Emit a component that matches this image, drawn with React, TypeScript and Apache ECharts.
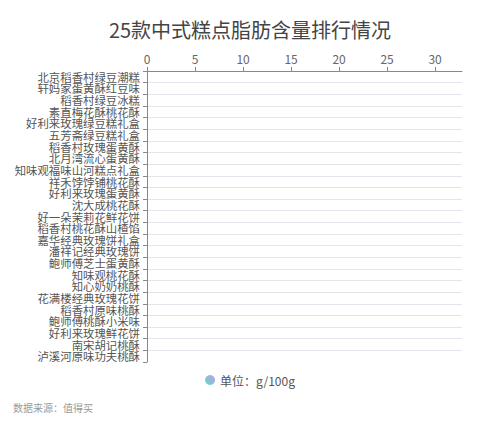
import React, { useEffect, useRef } from 'react';
import * as echarts from 'echarts';

const titleText = '25款中式糕点脂肪含量排行情况';
const sourceText = '数据来源：值得买';
const seriesName = '单位：g/100g';

const categories = [
  '北京稻香村绿豆潮糕',
  '轩妈家蛋黄酥红豆味',
  '稻香村绿豆冰糕',
  '素直梅花酥桃花酥',
  '好利来玫瑰绿豆糕礼盒',
  '五芳斋绿豆糕礼盒',
  '稻香村玫瑰蛋黄酥',
  '北月湾流心蛋黄酥',
  '知味观福味山河糕点礼盒',
  '祥禾饽饽铺桃花酥',
  '好利来玫瑰蛋黄酥',
  '沈大成桃花酥',
  '好一朵茉莉花鲜花饼',
  '稻香村桃花酥山楂馅',
  '嘉华经典玫瑰饼礼盒',
  '潘祥记经典玫瑰饼',
  '鲍师傅芝士蛋黄酥',
  '知味观桃花酥',
  '知心奶奶桃酥',
  '花满楼经典玫瑰花饼',
  '稻香村原味桃酥',
  '鲍师傅桃酥小米味',
  '好利来玫瑰鲜花饼',
  '南宋胡记桃酥',
  '泸溪河原味功夫桃酥',
];

// no bars are drawn in the reference, so no value can be read
const fatValues: (number | null)[] = [
  null, null, null, null, null, null, null, null, null, null,
  null, null, null, null, null, null, null, null, null, null,
  null, null, null, null, null,
];

const xTicks = [0, 5, 10, 15, 20, 25, 30];
const xMax = 32.8;

const font = '"Noto Sans CJK SC", "Noto Sans", sans-serif';

const App: React.FC = () => {
  const chartRef = useRef<HTMLDivElement>(null);

  useEffect(() => {
    if (!chartRef.current) return;
    const chart = echarts.init(chartRef.current, null, { renderer: 'svg' });

    const option: echarts.EChartsOption = {
      animation: false,
      backgroundColor: '#fff',
      textStyle: { fontFamily: font },
      title: [
        {
          text: titleText,
          left: 'center',
          top: 13,
          textStyle: { fontSize: 20, fontWeight: 'normal', color: '#444', fontFamily: font, lineHeight: 22 },
        },
        {
          text: sourceText,
          left: 8,
          top: 396,
          textStyle: { fontSize: 10, fontWeight: 'normal', color: '#999', fontFamily: font, lineHeight: 12 },
        },
      ],
      legend: {
        top: 368,
        left: 'center',
        icon: 'circle',
        itemWidth: 10,
        itemHeight: 10,
        itemGap: 10,
        textStyle: { fontSize: 12, color: '#555', fontFamily: font, lineHeight: 14 },
        data: [seriesName],
      },
      grid: { left: 147, right: 38, top: 71, bottom: 63, containLabel: false },
      xAxis: {
        type: 'value',
        position: 'top',
        min: 0,
        max: xMax,
        interval: 5,
        axisLine: { show: true, lineStyle: { color: '#888' } },
        axisTick: { show: true, length: 4, lineStyle: { color: '#888' }, customValues: xTicks },
        axisLabel: { color: '#666', fontSize: 12, margin: 7, customValues: xTicks },
        splitLine: { show: false },
      },
      yAxis: {
        type: 'category',
        inverse: true,
        data: categories,
        axisLine: { show: true, lineStyle: { color: '#888' } },
        axisTick: { show: true, length: 4, lineStyle: { color: '#888' } },
        axisLabel: { color: '#555', fontSize: 11.4, lineHeight: 11, margin: 7, interval: 0 },
        splitLine: { show: true, showMaxLine: false, lineStyle: { color: '#e4e4ec' } },
      },
      series: [
        {
          name: seriesName,
          type: 'bar',
          data: fatValues,
          barWidth: '60%',
          itemStyle: {
            color: new echarts.graphic.LinearGradient(0, 1, 1, 0, [
              { offset: 0, color: '#5edcb6' },
              { offset: 1, color: '#c49cf7' },
            ]),
          },
        },
      ],
    };

    chart.setOption(option);

    return () => {
      chart.dispose();
    };
  }, []);

  return (
    <div
      ref={chartRef}
      style={{ position: 'fixed', left: 0, top: 0, width: 500, height: 425 }}
    />
  );
};

export default App;
